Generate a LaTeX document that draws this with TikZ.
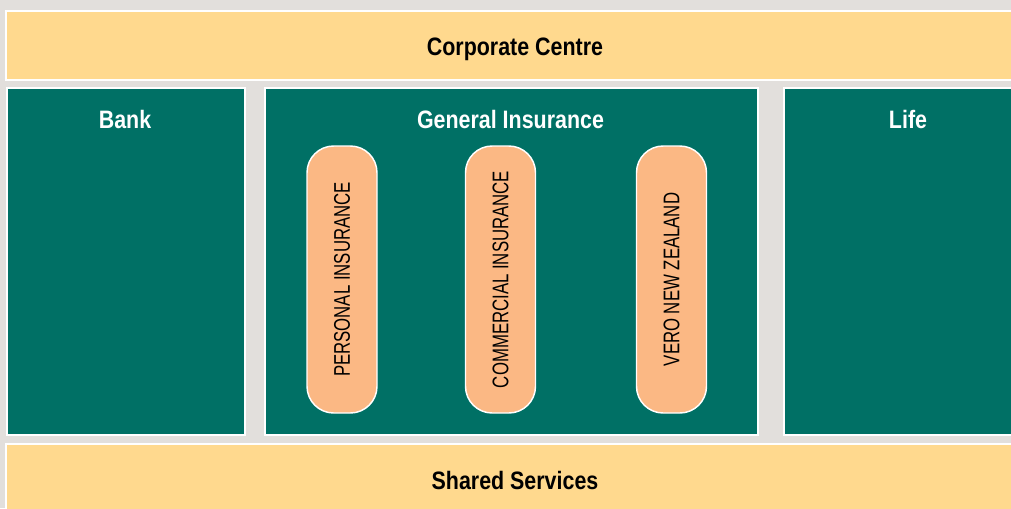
\documentclass[tikz,border=0pt]{standalone}
\usepackage{fontspec}
\setmainfont{Liberation Sans}
\newfontfamily\headfont[FakeStretch=0.85]{Liberation Sans}
\newfontfamily\unitfont[FakeStretch=0.74]{Liberation Sans}
\usetikzlibrary{positioning}
\definecolor{bggray}{HTML}{E2DFDC}
\definecolor{corpyellow}{HTML}{FFD98E}
\definecolor{divgreen}{HTML}{007065}
\definecolor{unitpeach}{HTML}{FBB884}
\begin{document}
\begin{tikzpicture}[x=0.75pt, y=-0.75pt,
		band/.style={rectangle, draw=white, line width=1.2pt, fill=corpyellow, inner sep=0pt, anchor=north west},
		division/.style={rectangle, draw=white, line width=1.2pt, fill=divgreen, inner sep=0pt, anchor=north west, minimum height=260.25pt},
		unit/.style={rectangle, rounded corners=20pt, draw=white, line width=1.1pt, fill=unitpeach, inner sep=0pt, minimum width=200.25pt, minimum height=52.5pt, rotate=90, font=\unitfont\fontsize{17}{19}\selectfont},
		head/.style={anchor=base, font=\headfont\bfseries\fontsize{18.9}{22}\selectfont}]
		\useasboundingbox (0,0) rectangle (1011,508);
		\fill[bggray] (0,0) rectangle (1011,508);
		\clip (0,0) rectangle (1011,508);
		% bands top and bottom
		\node[band, minimum width=765pt, minimum height=51.75pt] (corp) at (5,10) {};
		\node[band, minimum width=765pt, minimum height=57pt] (shared) at (5,443) {};
		% divisions
		\node[division, minimum width=178.5pt] (bank) at (6,87) {};
		\node[division, minimum width=369.75pt] (geninsurance) at (264,87) {};
		\node[division, minimum width=187.5pt] (life) at (783,87) {};
		% titles
		\node[head] (corplbl) at (515,55) {Corporate Centre};
		\node[head, text=white] (banklbl) at (125,128) {Bank};
		\node[head, text=white] (genlbl) at (510.5,128) {General Insurance};
		\node[head, text=white] (lifelbl) at (908,128) {Life};
		\node[head] (sharedlbl) at (515,489) {Shared Services};
		% business units
		\node[unit] (personal) at (342,279.5) {PERSONAL INSURANCE};
		\node[unit] (commercial) at (500.5,279.5) {COMMERCIAL INSURANCE};
		\node[unit] (vero) at (671.5,279.5) {VERO NEW ZEALAND};
	\end{tikzpicture}
\end{document}
